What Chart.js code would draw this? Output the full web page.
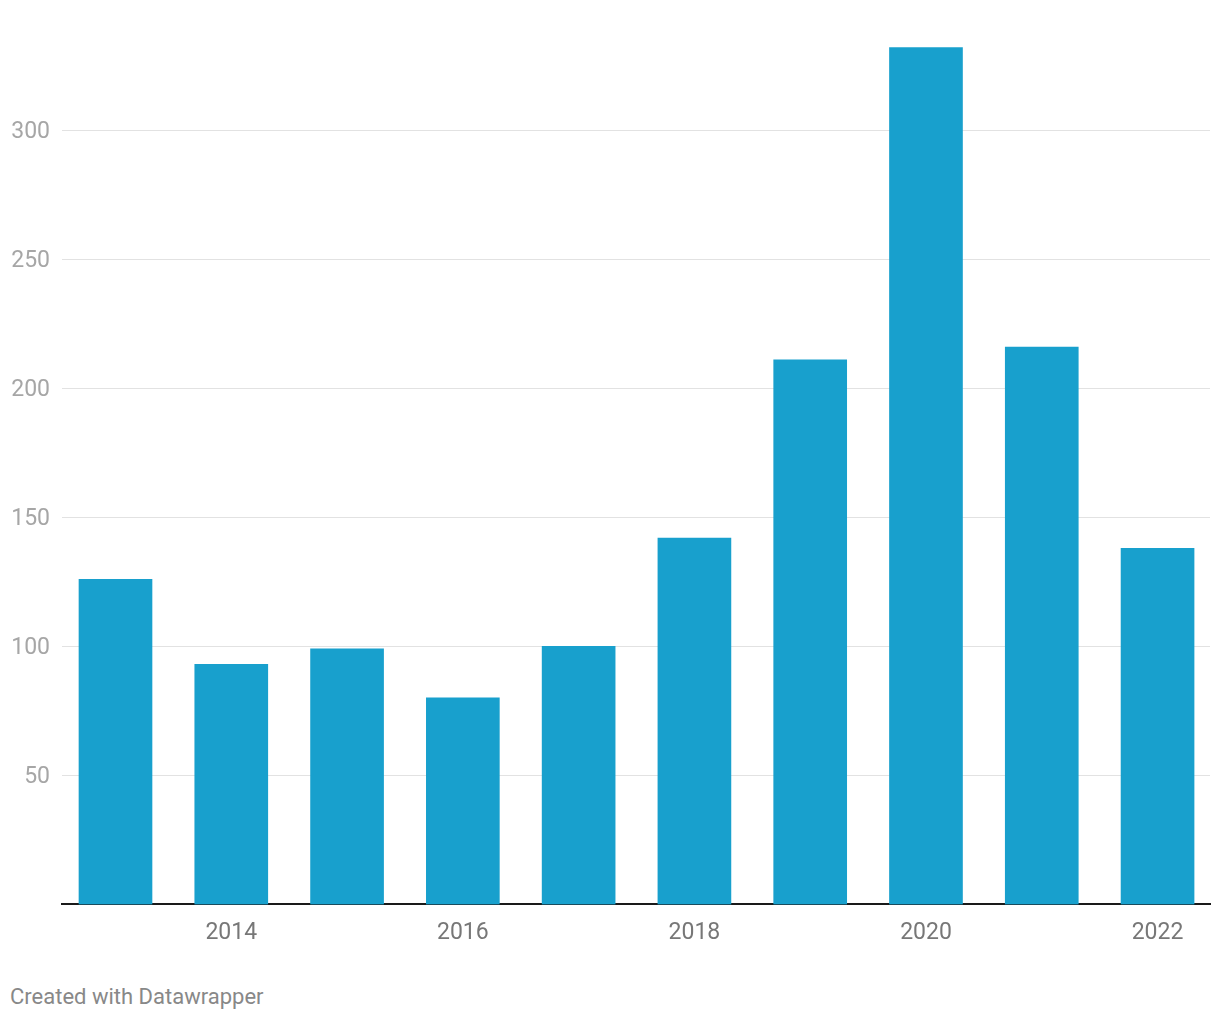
<!DOCTYPE html>
<html>
<head>
<meta charset="utf-8">
<script src="https://cdn.jsdelivr.net/npm/chart.js@4"></script>
<style>
    body { margin: 0; background: #fff; font-family: Roboto, sans-serif; }
    #wrap { position: relative; width: 1220px; height: 960px; }
    #credit { position: absolute; left: 10px; top: 984px; font-size: 22px; color: #888; }
</style>
</head>
<body>
<div id="wrap"><canvas id="barChart"></canvas></div>
<div id="credit">Created with Datawrapper</div>
<script>
// === DATA ===
const years = [2013, 2014, 2015, 2016, 2017, 2018, 2019, 2020, 2021, 2022];
const values = [126, 93, 99, 80, 100, 142, 211, 332, 216, 138];
const xTickYears = [2014, 2016, 2018, 2020, 2022];
const yTickValues = [50, 100, 150, 200, 250, 300];

Chart.defaults.font.family = "Roboto, sans-serif";

const ctx = document.getElementById('barChart');
new Chart(ctx, {
    type: 'bar',
    data: {
        datasets: [{
            data: years.map((y, i) => ({ x: y, y: values[i] })),
            backgroundColor: '#18a0cd',
            barThickness: 73,
            borderWidth: 0
        }]
    },
    options: {
        responsive: true,
        maintainAspectRatio: false,
        animation: false,
        layout: { padding: { top: 27, right: 10, bottom: -2, left: 0 } },
        plugins: {
            legend: { display: false },
            tooltip: { enabled: false }
        },
        scales: {
            x: {
                type: 'linear',
                min: 2012.538,
                max: 2022.453,
                offset: false,
                z: 1,
                grid: { display: false, drawTicks: false, offset: false },
                border: { color: '#1a1a1a', width: 2 },
                afterBuildTicks: function(scale) {
                    scale.ticks = xTickYears.map(v => ({ value: v }));
                },
                ticks: {
                    padding: 15,
                    color: '#777',
                    font: { size: 23 },
                    callback: function(v) { return String(v); }
                }
            },
            y: {
                min: 0,
                max: 340,
                afterFit: function(scale) { scale.width = 62; },
                afterBuildTicks: function(scale) {
                    scale.ticks = yTickValues.map(v => ({ value: v }));
                },
                grid: { color: '#e2e2e2', lineWidth: 1, drawTicks: false },
                border: { display: false },
                ticks: {
                    padding: 12,
                    labelOffset: 2,
                    color: '#a6a6a6',
                    font: { size: 23 }
                }
            }
        }
    }
});
</script>
</body>
</html>
